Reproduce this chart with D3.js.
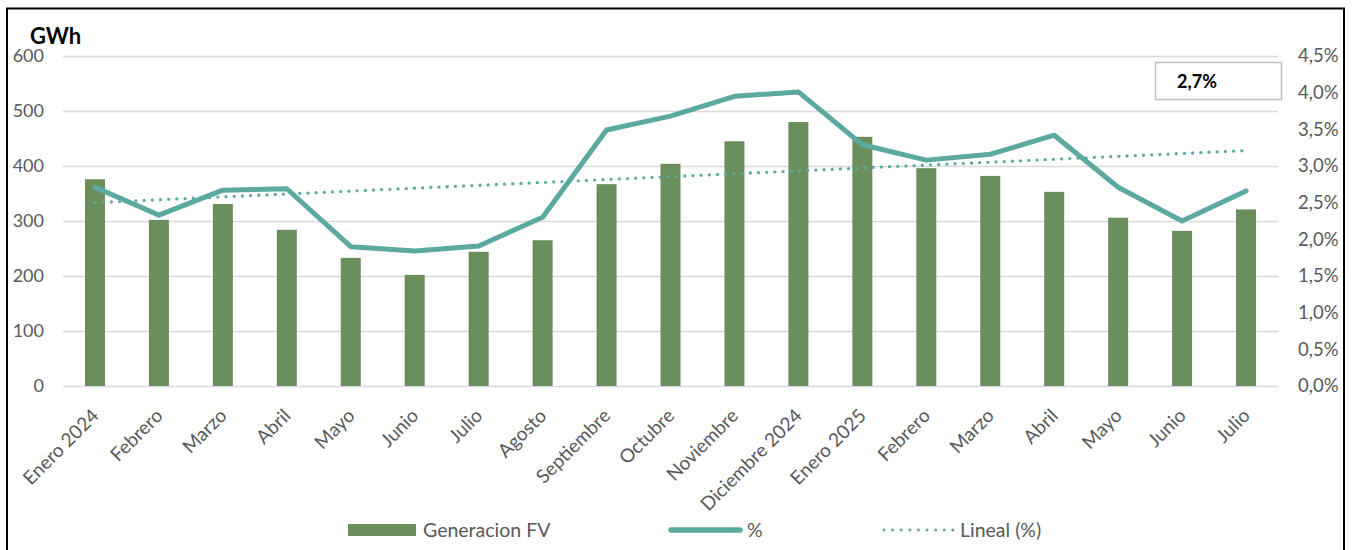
<!DOCTYPE html>
<html><head><meta charset="utf-8">
<script src="https://cdn.jsdelivr.net/npm/d3@7"></script>
<style>
html,body{margin:0;padding:0;background:#fff;}
text{font-family:Lato,"Open Sans",sans-serif;}
</style></head>
<body><svg id="chart" width="1353" height="550"></svg>
<script>
const categories = ["Enero 2024","Febrero","Marzo","Abril","Mayo","Junio","Julio","Agosto","Septiembre","Octubre","Noviembre","Diciembre 2024","Enero 2025","Febrero","Marzo","Abril","Mayo","Junio","Julio"];
const generacionFV = [376,302,331,284,233,202,244,265,367,404,445,480,453,396,382,353,306,282,321];
const pct = [2.71,2.33,2.67,2.69,1.90,1.84,1.91,2.30,3.49,3.68,3.95,4.01,3.29,3.08,3.16,3.42,2.71,2.25,2.66];
const trendEnds = [2.50,3.21];
const leftTicks = [0,100,200,300,400,500,600];
const rightTicks = [0,0.5,1,1.5,2,2.5,3,3.5,4,4.5];
const boxLabel = "2,7%";
const legendLabels = ["Generacion FV","%","Lineal (%)"];

const svg = d3.select("#chart");
const M = {left:63, right:1278, top:56, bottom:386};
const barColor = "#6B8F5C", lineColor = "#5BA9A1", gridColor = "#D9D9D9", txt = "#595959";

// frame
svg.append("rect").attr("x",7).attr("y",8.5).attr("width",1337).attr("height",560)
  .attr("fill","none").attr("stroke","#000").attr("stroke-width",2);

const x = d3.scaleBand().domain(d3.range(categories.length)).range([M.left,M.right]);
const y = d3.scaleLinear().domain([0,600]).range([M.bottom,M.top]);
const y2 = d3.scaleLinear().domain([0,4.5]).range([M.bottom,M.top]);

// grid
svg.append("g").selectAll("line").data(leftTicks).join("line")
  .attr("x1",M.left).attr("x2",M.right)
  .attr("y1",d=>y(d)+0.5).attr("y2",d=>y(d)+0.5)
  .attr("stroke",gridColor).attr("stroke-width",1.3);

// left axis
const la = svg.append("g").attr("transform",`translate(${M.left-19},0)`)
  .call(d3.axisLeft(y).tickValues(leftTicks).tickSize(0).tickPadding(0));
la.select(".domain").remove();
la.selectAll("text").attr("fill",txt).style("font-size","18px").style("font-family","Lato,sans-serif");

// right axis
const fmt = d => d.toFixed(1).replace(".",",")+"%";
const ra = svg.append("g").attr("transform",`translate(1298,0)`)
  .call(d3.axisRight(y2).tickValues(rightTicks).tickFormat(fmt).tickSize(0).tickPadding(0));
ra.select(".domain").remove();
ra.selectAll("text").attr("fill",txt).style("font-size","18.5px").style("font-family","Lato,sans-serif");

// bars
svg.append("g").selectAll("rect").data(generacionFV).join("rect")
  .attr("x",(d,i)=>x(i)+x.bandwidth()/2-10).attr("width",20)
  .attr("y",d=>y(d)).attr("height",d=>y(0)-y(d)).attr("fill",barColor);

// x labels
const xa = svg.append("g").attr("transform",`translate(0,${M.bottom})`)
  .call(d3.axisBottom(x).tickFormat(i=>categories[i]).tickSize(0).tickPadding(0));
xa.select(".domain").remove();
xa.selectAll("text").attr("fill",txt).style("font-size","19px").style("font-family","Lato,sans-serif")
  .attr("text-anchor","end").attr("dy",0).attr("y",0)
  .attr("transform","translate(5,31) rotate(-45)");

// percent line
const cx = i => x(i)+x.bandwidth()/2;
svg.append("path").datum(pct)
  .attr("d",d3.line().x((d,i)=>cx(i)).y(d=>y2(d)))
  .attr("fill","none").attr("stroke",lineColor).attr("stroke-width",5)
  .attr("stroke-linejoin","round").attr("stroke-linecap","round");

// trend
const last = categories.length-1;
svg.append("path").datum([[0,trendEnds[0]],[last,trendEnds[1]]])
  .attr("d",d3.line().x(d=>cx(d[0])).y(d=>y2(d[1])))
  .attr("fill","none").attr("stroke",lineColor).attr("stroke-width",3.3)
  .attr("stroke-dasharray","0,8.2").attr("stroke-linecap","round");

// GWh
svg.append("text").attr("x",30).attr("y",44).text("GWh")
  .style("font-size","22px").style("font-weight","bold").attr("fill","#000");

// box
svg.append("rect").attr("x",1155.5).attr("y",62.5).attr("width",126).attr("height",37)
  .attr("fill","#fff").attr("stroke","#BFBFBF").attr("stroke-width",1.5);
svg.append("text").attr("x",1197).attr("y",88).attr("text-anchor","middle").text(boxLabel)
  .style("font-size","18px").style("font-weight","bold").attr("fill","#000");

// legend
const lg = svg.append("g");
const ltext = (xp, s) => lg.append("text").attr("x",xp).attr("y",536.5)
  .text(s).attr("fill",txt).style("font-size","19.5px");
lg.append("rect").attr("x",348).attr("y",524).attr("width",68).attr("height",12).attr("fill",barColor);
ltext(423, legendLabels[0]);
lg.append("line").attr("x1",671).attr("x2",740).attr("y1",530).attr("y2",530)
  .attr("stroke",lineColor).attr("stroke-width",5.5).attr("stroke-linecap","round");
ltext(747, legendLabels[1]);
lg.append("line").attr("x1",884).attr("x2",953).attr("y1",530).attr("y2",530)
  .attr("stroke",lineColor).attr("stroke-width",3).attr("stroke-dasharray","0,8.6").attr("stroke-linecap","round");
ltext(960, legendLabels[2]);
</script></body></html>
